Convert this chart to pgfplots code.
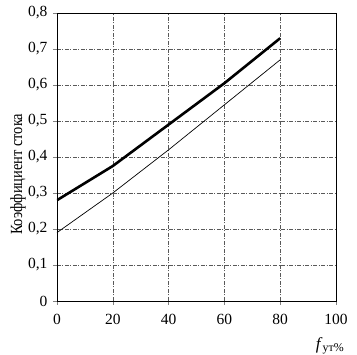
\documentclass[border=0pt]{standalone}
\usepackage{fontspec}
\setmainfont{Liberation Serif}
\usepackage{graphicx}
\usepackage{pgfplots}
\pgfplotsset{compat=1.18}
\begin{document}
\begin{tikzpicture}
\useasboundingbox (-57pt,-54pt) rectangle (300pt,301pt);
\begin{axis}[
  at={(0,0)}, anchor=south west,
  scale only axis, width=279pt, height=288pt,
  clip mode=individual,
  xmin=0, xmax=100, ymin=0, ymax=0.8,
  xtick={0,20,...,100}, ytick={0,0.1,...,0.8},
  /pgf/number format/assume math mode=true,
  /pgf/number format/use comma,
  yticklabel style={/pgf/number format/fixed,/pgf/number format/precision=1, xshift=-2pt},
  tick label style={font=\fontsize{15.5}{15.5}\selectfont},
  tick align=outside, major tick length=4pt,
  xtick pos=bottom, ytick pos=left,
  xticklabel style={yshift=-6pt},
  grid=major,
  major grid style={black!65, line width=0.5pt, dash pattern=on 4pt off 1.5pt on 1pt off 1.5pt},
  axis line style={line width=0.8pt},
  ylabel={\scalebox{0.85}[1]{Коэффициент стока}},
  ylabel style={font=\fontsize{17}{17}\selectfont, at={(axis description cs:-0.14,0.44)}, anchor=center},
]
\addplot[black, line width=2.6pt] coordinates {(0,0.28) (20,0.375) (40,0.49) (60,0.605) (80,0.73)};
\addplot[black, line width=0.7pt] coordinates {(0,0.19) (20,0.30) (40,0.42) (60,0.545) (80,0.67)};
\node[anchor=north east, font=\fontsize{17}{17}\selectfont, inner sep=0pt] at (axis description cs:1.03,-0.125) {\textit{f}\textsubscript{ут\%}};
\end{axis}
\end{tikzpicture}
\end{document}
